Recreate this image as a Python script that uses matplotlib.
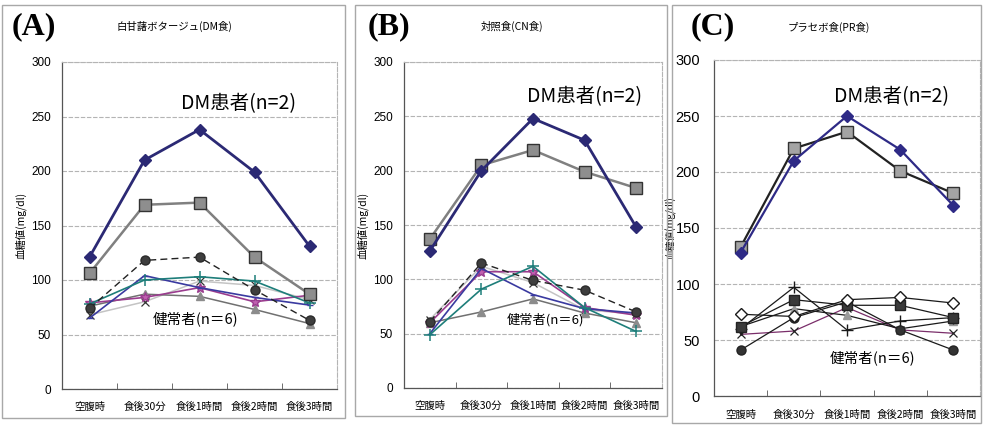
import matplotlib
matplotlib.use('Agg')
import matplotlib.pyplot as plt
from matplotlib.patches import Rectangle

plt.rcParams['font.family'] = ['Noto Sans CJK JP', 'DejaVu Sans']

# 測定時点
times = ['空腹時', '食後30分', '食後1時間', '食後2時間', '食後3時間']

# (A) 白甘藷ポタージュ (DM食)
dm_diamond_a = [121, 210, 238, 199, 131]
dm_square_a = [106, 169, 171, 121, 87]
hc_circle_a = [74, 118, 121, 91, 63]
hc_teal_a = [78, 100, 103, 99, 79]
hc_blue_a = [65, 104, 93, 84, 77]
hc_magenta_a = [79, 84, 93, 80, 86]
hc_triangle_a = [76, 87, 85, 73, 60]
hc_silver_a = [68, 80, 99, 95, 82]

# (B) 対照食 (CN食)
dm_diamond_b = [126, 200, 248, 228, 148]
dm_square_b = [137, 205, 219, 199, 184]
hc_circle_b = [61, 115, 99, 90, 70]
hc_teal_b = [49, 91, 112, 74, 52]
hc_blue_b = [50, 110, 86, 73, 69]
hc_magenta_b = [60, 107, 107, 74, 67]
hc_triangle_b = [60, 70, 82, 69, 60]
hc_silver_b = [63, 112, 97, 72, 68]

# (C) プラセボ食 (PR食)
dm_diamond_c = [128, 210, 250, 220, 170]
dm_square_c = [133, 221, 236, 201, 181]
hc_opendia_c = [73, 71, 86, 88, 83]
hc_square_c = [62, 86, 81, 81, 70]
hc_circle_c = [41, 70, 84, 59, 41]
hc_plus_c = [60, 97, 59, 67, 70]
hc_cross_c = [55, 58, 79, 59, 56]
hc_triangle_c = [62, 78, 72, 60, 67]

W, H = 983, 425
fig = plt.figure(figsize=(W / 100, H / 100), dpi=100)
fig.patch.set_facecolor('white')


def fx(px):
    return px / W


def fy(py):
    return 1 - py / H


def make_axes(left, top, right, bottom, ysize, ypad, xpad, lsize):
    ax = fig.add_axes([fx(left), fy(bottom), fx(right - left), (bottom - top) / H])
    x = list(range(len(times)))
    ax.set_xlim(-0.5, len(times) - 0.5)
    ax.set_ylim(0, 300)
    ax.set_yticks(range(0, 301, 50))
    ax.set_xticks(x)
    ax.set_xticklabels(times, fontsize=7.5)
    ax.set_xticks([i + 0.5 for i in x[:-1]], minor=True)
    ax.tick_params(axis='x', which='major', length=0, pad=xpad)
    ax.tick_params(axis='x', which='minor', length=4, direction='in', color='#555555')
    ax.tick_params(axis='y', length=0, pad=ypad, labelsize=ysize)
    for lab in ax.get_yticklabels():
        lab.set_family(['Liberation Sans Narrow', 'Liberation Sans'])
    ax.yaxis.grid(True, color='#B4B4B4', linestyle=(0, (4, 1.5)), linewidth=0.8)
    ax.set_axisbelow(True)
    for side in ['left', 'bottom']:
        ax.spines[side].set_color('#555555')
        ax.spines[side].set_linewidth(0.9)
    for side in ['top', 'right']:
        ax.spines[side].set_color('#B4B4B4')
        ax.spines[side].set_linestyle((0, (4, 1.5)))
        ax.spines[side].set_linewidth(0.8)
    ax.set_ylabel('血糖値(mg/dl)', fontsize=lsize)
    return ax, x


# パネルの枠
for (l, t, r, b) in [(2, 5, 345, 418), (355, 5, 667, 416), (672, 5, 981, 423)]:
    fig.patches.append(Rectangle((fx(l), fy(b)), fx(r - l), (b - t) / H,
                                 transform=fig.transFigure, fill=False,
                                 edgecolor='#A8A8A8', linewidth=1.0))

navy = '#2B2974'

# ---- (A) と (B) ----
for (left, right, bottom, label, lx, title, tx,
     dm_d, dm_s, circ, teal, blue, mag, tri, silv) in [
        (62, 337, 389, '(A)', 12, '白甘藷ボタージュ(DM食)', 117,
         dm_diamond_a, dm_square_a, hc_circle_a, hc_teal_a, hc_blue_a,
         hc_magenta_a, hc_triangle_a, hc_silver_a),
        (404, 662, 388, '(B)', 368, '対照食(CN食)', 481,
         dm_diamond_b, dm_square_b, hc_circle_b, hc_teal_b, hc_blue_b,
         hc_magenta_b, hc_triangle_b, hc_silver_b)]:
    ax, x = make_axes(left, 62, right, bottom, 8.5, 8, 9, 7.5)
    ax.yaxis.set_label_coords(-35 / (right - left), 0.5)

    ax.plot(x, silv, color='#C4C4C4', lw=1.1, marker='x', ms=6,
            mec='#333333', mew=0.9, zorder=3)
    ax.plot(x, tri, color='#707070', lw=1.1, marker='^', ms=6,
            mfc='#8C8C8C', mec='#8C8C8C', zorder=3)
    ax.plot(x, mag, color='#9A3C8E', lw=1.2, marker='*', ms=7,
            mfc='#C060B0', mec='#9A3C8E', zorder=4)
    ax.plot(x, blue, color='#3A3AA0', lw=1.2, marker='_', ms=5, zorder=4)
    ax.plot(x, teal, color='#1E7E7A', lw=1.2, marker='+', ms=8, mew=1.1, zorder=4)
    ax.plot(x, circ, color='#222222', lw=1.0, ls=(0, (5, 3)), marker='o', ms=6.5,
            mfc='#3E3E3E', mec='#2A2A2A', zorder=5)
    ax.plot(x, dm_s, color='#808080', lw=1.8, marker='s', ms=8,
            mfc='#8E8E8E', mec='#333333', mew=1.0, zorder=6)
    ax.plot(x, dm_d, color=navy, lw=2.0, marker='D', ms=6.5,
            mfc=navy, mec=navy, zorder=7)

    fig.text(fx(lx), fy(27), label, fontsize=23, fontweight='bold',
             family=['Liberation Serif', 'DejaVu Serif'], va='center', ha='left')
    fig.text(fx(tx), fy(26), title, fontsize=7.5, va='center', ha='left')

fig.text(fx(181), fy(104), 'DM患者(n=2)', fontsize=14, va='center', ha='left')
fig.text(fx(153), fy(319), '健常者(n＝6)', fontsize=10.5, va='center', ha='left')
fig.text(fx(527), fy(97), 'DM患者(n=2)', fontsize=14, va='center', ha='left')
fig.text(fx(507), fy(320), '健常者(n＝6)', fontsize=9.5, va='center', ha='left')

# ---- (C) ----
ax, x = make_axes(714, 60, 980, 396, 10.5, 10, 10, 7)
ax.yaxis.set_label_coords(-37 / 266, 0.5)

ax.plot(x, hc_cross_c, color='#7A2E6A', lw=0.9, marker='x', ms=6,
        mec='#222222', mew=0.9, zorder=3)
ax.plot(x, hc_triangle_c, color='#1A1A1A', lw=0.9, marker='^', ms=6,
        mfc='#9A9A9A', mec='#9A9A9A', zorder=3)
ax.plot(x, hc_plus_c, color='#1A1A1A', lw=0.9, marker='+', ms=9, mew=1.0,
        mec='#1A1A1A', zorder=3)
ax.plot(x, hc_circle_c, color='#1A1A1A', lw=0.9, marker='o', ms=6.5,
        mfc='#333333', mec='#222222', zorder=4)
ax.plot(x, hc_square_c, color='#1A1A1A', lw=0.9, marker='s', ms=7.5,
        mfc='#3A3A3A', mec='#222222', zorder=4)
ax.plot(x, hc_opendia_c, color='#1A1A1A', lw=0.9, marker='D', ms=6.5,
        mfc='white', mec='#1A1A1A', mew=1.0, zorder=5)
ax.plot(x, dm_square_c, color='#222222', lw=1.6, marker='s', ms=8,
        mfc='#A4A4A4', mec='#333333', mew=1.0, zorder=6)
ax.plot(x, dm_diamond_c, color='#2E2A86', lw=1.6, marker='D', ms=6.5,
        mfc='#2E2A86', mec='#2E2A86', zorder=7)

fig.text(fx(691), fy(27), '(C)', fontsize=23, fontweight='bold',
         family=['Liberation Serif', 'DejaVu Serif'], va='center', ha='left')
fig.text(fx(788), fy(27), 'プラセボ食(PR食)', fontsize=7.5, va='center', ha='left')
fig.text(fx(834), fy(97), 'DM患者(n=2)', fontsize=14, va='center', ha='left')
fig.text(fx(830), fy(358), '健常者(n＝6)', fontsize=10.5, va='center', ha='left')

fig.savefig('out.png', dpi=100)
